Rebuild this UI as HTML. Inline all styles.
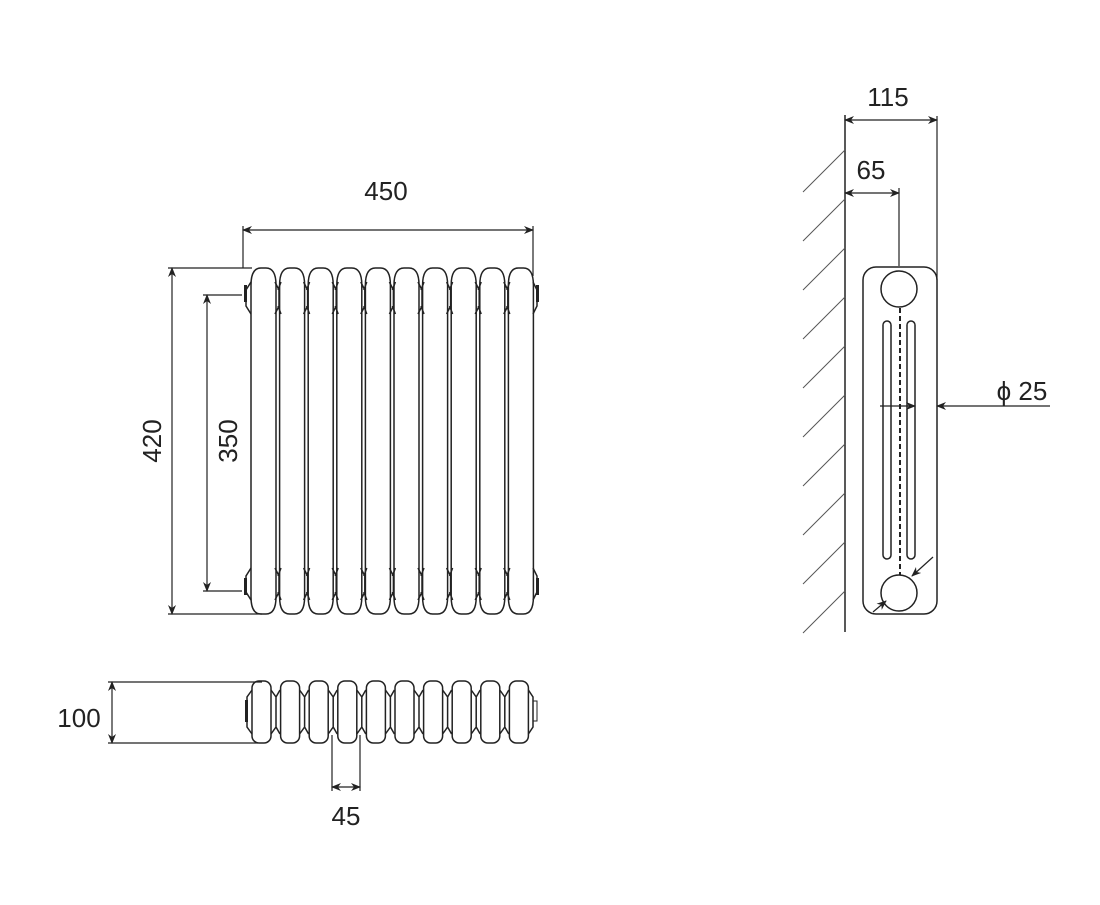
<!DOCTYPE html>
<html><head><meta charset="utf-8"><style>
html,body{margin:0;padding:0;background:#fff}
svg text{font-family:"Liberation Sans",Arial,sans-serif;font-size:26px;fill:#222}
</style></head><body>
<svg width="1100" height="900" viewBox="0 0 1100 900" xmlns="http://www.w3.org/2000/svg">
<defs>
<marker id="a" markerWidth="10" markerHeight="8" refX="9" refY="4" orient="auto-start-reverse" markerUnits="userSpaceOnUse"><path d="M0,0 L10,4 L0,8 L3,4 Z" fill="#222"/></marker>
<g id="col" fill="none" stroke="#222" stroke-width="1.5">
<path d="M0,285 Q0,268 10,268 L15,268 Q25,268 25,285 L25,597 Q25,614 15,614 L10,614 Q0,614 0,597 Z"/>
<path d="M24,282 L28,290 L28,306 L24,314 M30,282 L27,290 M30,314 L27,306"/>
<path d="M24,568 L28,576 L28,592 L24,600 M30,568 L27,576 M30,600 L27,592"/>
</g>
<g id="top" fill="none" stroke="#222" stroke-width="1.5">
<rect x="0" y="681" width="19" height="62" rx="7"/>
<path d="M19,690 L24,697 L24,727 L19,734 M28,690 L24,697 M28,734 L24,727"/>
</g>
</defs>

<g>
<use href="#col" x="251"/><use href="#col" x="279.6"/><use href="#col" x="308.2"/><use href="#col" x="336.8"/><use href="#col" x="365.4"/>
<use href="#col" x="394"/><use href="#col" x="422.6"/><use href="#col" x="451.2"/><use href="#col" x="479.8"/>
<g fill="none" stroke="#222" stroke-width="1.5">
<path d="M508.4,285 Q508.4,268 518.4,268 L523.4,268 Q533.4,268 533.4,285 L533.4,597 Q533.4,614 523.4,614 L518.4,614 Q508.4,614 508.4,597 Z"/>
<path d="M251,282 L246,290 L246,306 L251,314 M251,568 L246,576 L246,592 L251,600"/>
<path d="M533,282 L537,290 L537,306 L533,314 M533,568 L537,576 L537,592 L533,600"/>
</g>
<rect x="244" y="285" width="3" height="17" fill="#222"/><rect x="536" y="285" width="3" height="17" fill="#222"/>
<rect x="244" y="578" width="3" height="17" fill="#222"/><rect x="536" y="578" width="3" height="17" fill="#222"/>
</g>

<g>
<use href="#top" x="252"/><use href="#top" x="280.6"/><use href="#top" x="309.2"/><use href="#top" x="337.8"/><use href="#top" x="366.4"/>
<use href="#top" x="395"/><use href="#top" x="423.6"/><use href="#top" x="452.2"/><use href="#top" x="480.8"/>
<rect x="509.4" y="681" width="19" height="62" rx="7" fill="none" stroke="#222" stroke-width="1.5"/>
<path d="M252,690 L247,697 L247,727 L252,734 M528.4,690 L533,697 L533,727 L528.4,734" fill="none" stroke="#222" stroke-width="1.5"/>
<rect x="245" y="700" width="3" height="22" fill="#222"/>
<rect x="533" y="701" width="4" height="20" fill="none" stroke="#222" stroke-width="1"/>
</g>

<g stroke="#222" stroke-width="1.2" fill="none">
<line x1="243" y1="226" x2="243" y2="268"/><line x1="533" y1="226" x2="533" y2="276"/>
<line x1="243" y1="230" x2="533" y2="230" marker-start="url(#a)" marker-end="url(#a)"/>
<line x1="168" y1="268" x2="252" y2="268"/><line x1="168" y1="614" x2="262" y2="614"/>
<line x1="172" y1="268" x2="172" y2="614" marker-start="url(#a)" marker-end="url(#a)"/>
<line x1="203" y1="295" x2="242" y2="295"/><line x1="203" y1="591" x2="242" y2="591"/>
<line x1="207" y1="295" x2="207" y2="591" marker-start="url(#a)" marker-end="url(#a)"/>
<line x1="108" y1="682" x2="262" y2="682"/><line x1="108" y1="743" x2="258" y2="743"/>
<line x1="112" y1="682" x2="112" y2="743" marker-start="url(#a)" marker-end="url(#a)"/>
<line x1="332" y1="735" x2="332" y2="791"/><line x1="360" y1="735" x2="360" y2="791"/>
<line x1="332" y1="787" x2="360" y2="787" marker-start="url(#a)" marker-end="url(#a)"/>
</g>
<text x="386" y="200" text-anchor="middle">450</text>
<text transform="translate(161,441) rotate(-90)" text-anchor="middle">420</text>
<text transform="translate(237,441) rotate(-90)" text-anchor="middle">350</text>
<text x="79" y="727" text-anchor="middle">100</text>
<text x="346" y="825" text-anchor="middle">45</text>

<g stroke="#222" stroke-width="1.5" fill="none">
<line x1="845" y1="115" x2="845" y2="632"/>
<rect x="863" y="267" width="74" height="347" rx="13"/>
<circle cx="899" cy="289" r="18"/><circle cx="899" cy="593" r="18"/>
<rect x="883" y="321" width="8" height="238" rx="4"/>
<rect x="907" y="321" width="8" height="238" rx="4"/>
<line x1="900" y1="308" x2="900" y2="575" stroke-dasharray="5,3" stroke-width="2"/>
</g>
<g stroke="#555" stroke-width="1">
<line x1="803" y1="192" x2="845" y2="150"/><line x1="803" y1="241" x2="845" y2="199"/>
<line x1="803" y1="290" x2="845" y2="248"/><line x1="803" y1="339" x2="845" y2="297"/>
<line x1="803" y1="388" x2="845" y2="346"/><line x1="803" y1="437" x2="845" y2="395"/>
<line x1="803" y1="486" x2="845" y2="444"/><line x1="803" y1="535" x2="845" y2="493"/>
<line x1="803" y1="584" x2="845" y2="542"/><line x1="803" y1="633" x2="845" y2="591"/>
</g>
<g stroke="#222" stroke-width="1.2" fill="none">
<line x1="937" y1="116" x2="937" y2="280"/><line x1="899" y1="188" x2="899" y2="266"/>
<line x1="845" y1="120" x2="937" y2="120" marker-start="url(#a)" marker-end="url(#a)"/>
<line x1="845" y1="193" x2="899" y2="193" marker-start="url(#a)" marker-end="url(#a)"/>
<line x1="880" y1="406" x2="915" y2="406" marker-end="url(#a)"/>
<line x1="1050" y1="406" x2="937" y2="406" marker-end="url(#a)"/>
<line x1="933" y1="557" x2="912" y2="576" marker-end="url(#a)"/>
<line x1="873" y1="612" x2="886" y2="601" marker-end="url(#a)"/>
</g>
<text x="888" y="106" text-anchor="middle">115</text>
<text x="871" y="179" text-anchor="middle">65</text>
<text x="1022" y="400" text-anchor="middle">ϕ 25</text>
</svg>
</body></html>
